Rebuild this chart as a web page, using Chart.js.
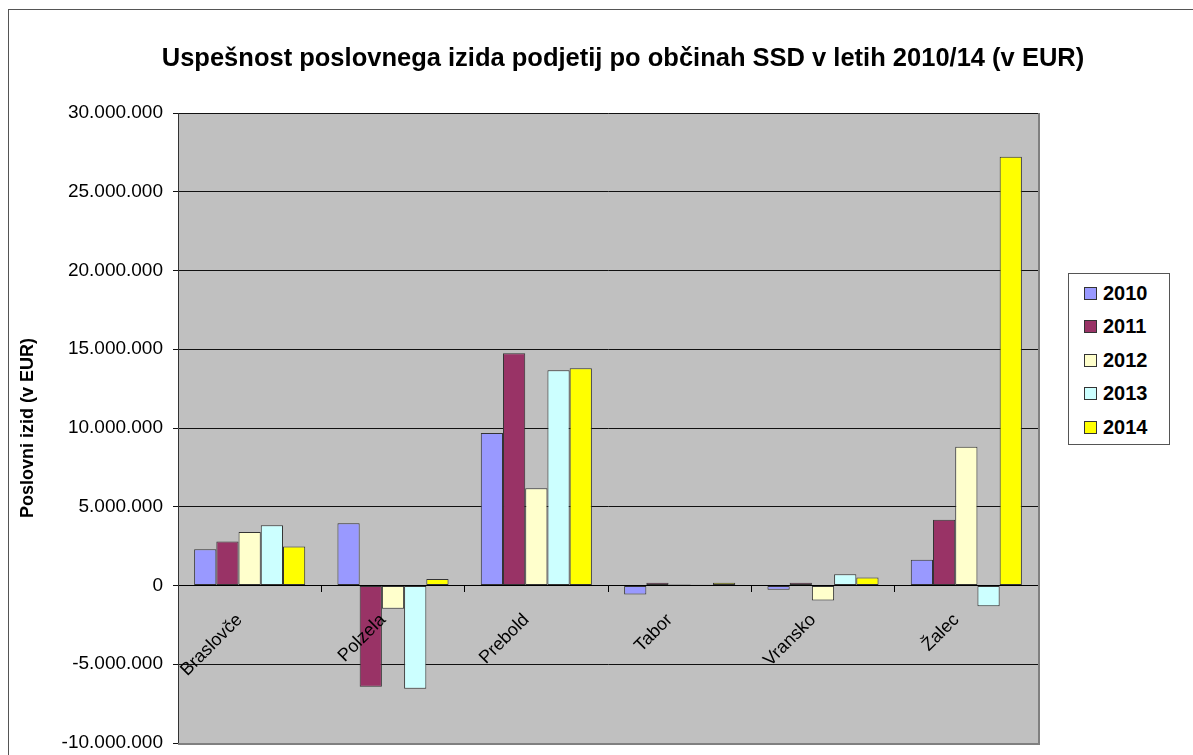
<!DOCTYPE html>
<html>
<head>
<meta charset="utf-8">
<script src="https://cdn.jsdelivr.net/npm/chart.js@4"></script>
<style>
html, body { margin: 0; padding: 0; background: #fff; }
#wrap { position: relative; width: 1193px; height: 755px; overflow: hidden; }
#frame { position: absolute; left: 8px; top: 9px; width: 1300px; height: 900px; border-left: 1px solid #555; border-top: 1px solid #555; }
#c { position: absolute; left: 0; top: 0; }
#title { position: absolute; left: 0; top: 43px; width: 1246px; text-align: center; line-height: 30px;
  font: bold 25.5px "Liberation Sans", Arial, sans-serif; color: #000; white-space: nowrap; }
#legend { position: absolute; left: 1068px; top: 273px; width: 102px; height: 172px; box-sizing: border-box;
  border: 1px solid #555; background: #fff; font: bold 20px "Liberation Sans", Arial, sans-serif; color: #000; }
#legend .row { position: absolute; left: 0; height: 33px; display: flex; align-items: center; }
#legend .sw { width: 13px; height: 13px; box-sizing: border-box; border: 1px solid #333; margin-left: 15px; margin-right: 6px; }
</style>
</head>
<body>
<div id="wrap">
  <div id="frame"></div>
  <canvas id="c" width="1193" height="755"></canvas>
  <div id="title">Uspešnost poslovnega izida podjetij po občinah SSD v letih 2010/14 (v EUR)</div>
  <div id="legend"></div>
</div>
<script>
const categories = ['Braslovče', 'Polzela', 'Prebold', 'Tabor', 'Vransko', 'Žalec'];
const years = ['2010', '2011', '2012', '2013', '2014'];
const v2010 = [2300000, 3960000, 9690000, -570000, -270000, 1640000];
const v2011 = [2800000, -6430000, 14750000, 170000, 170000, 4170000];
const v2012 = [3400000, -1480000, 6170000, 60000, -950000, 8810000];
const v2013 = [3830000, -6560000, 13660000, 50000, 720000, -1320000];
const v2014 = [2470000, 420000, 13800000, 170000, 510000, 27220000];
const yTickValues = [-10000000, -5000000, 0, 5000000, 10000000, 15000000, 20000000, 25000000, 30000000];

const colors = ['#9999FF', '#993366', '#FFFFCC', '#CCFFFF', '#FFFF00'];
const series = [v2010, v2011, v2012, v2013, v2014];
const FONT = '"Liberation Sans", Arial, sans-serif';

function fmt(v) {
  const s = String(Math.abs(v)).replace(/\B(?=(\d{3})+(?!\d))/g, '.');
  return v < 0 ? '-' + s : s;
}

// grey plot area with Excel-like border
const plotArea = {
  id: 'plotArea',
  beforeDraw(chart) {
    const { ctx, chartArea: a } = chart;
    ctx.save();
    ctx.fillStyle = '#C0C0C0';
    ctx.fillRect(a.left, a.top, a.right - a.left, a.bottom - a.top);
    ctx.restore();
  },
  afterDraw(chart) {
    const { ctx, chartArea: a } = chart;
    ctx.save();
    ctx.strokeStyle = '#808080';
    ctx.lineWidth = 2;
    ctx.beginPath();
    ctx.moveTo(a.left, a.bottom + 1);
    ctx.lineTo(a.right + 1, a.bottom + 1);
    ctx.lineTo(a.right + 1, a.top);
    ctx.stroke();
    ctx.restore();
  }
};

const chart = new Chart(document.getElementById('c'), {
  type: 'bar',
  data: {
    labels: categories,
    datasets: years.map((y, i) => ({
      label: y,
      data: series[i],
      backgroundColor: colors[i],
      borderColor: '#333',
      borderWidth: 1,
      borderSkipped: false,
      barPercentage: 1,
      categoryPercentage: 0.775
    }))
  },
  options: {
    responsive: false,
    animation: false,
    layout: { padding: { left: 0, right: 155, top: 113, bottom: 12 } },
    plugins: {
      legend: { display: false },
      tooltip: { enabled: false },
      title: { display: false }
    },
    scales: {
      x: {
        position: { y: 0 },
        afterFit: s => { s.height = 0; },
        grid: { drawOnChartArea: false, drawTicks: true, tickLength: 6, color: '#000', offset: true },
        border: { display: true, color: '#000' },
        ticks: { z: 1, minRotation: 45, maxRotation: 45, autoSkip: false, padding: 18, labelOffset: -10, color: '#000',
          font: { family: FONT, size: 18 } }
      },
      y: {
        min: -10000000,
        max: 30000000,
        afterFit: s => { s.width = 178; s.paddingTop = 0; s.paddingBottom = 0; },
        afterBuildTicks: s => { s.ticks = yTickValues.map(v => ({ value: v })); },
        grid: { color: '#111', tickLength: 5 },
        border: { color: '#333' },
        ticks: { callback: v => fmt(v), padding: 10, color: '#000', font: { family: FONT, size: 19 } },
        title: {
          display: true,
          text: 'Poslovni izid (v EUR)',
          color: '#000',
          font: { family: FONT, size: 18, weight: 'bold' },
          padding: { top: 17 }
        }
      }
    }
  },
  plugins: [plotArea]
});

// legend box
const legend = document.getElementById('legend');
chart.data.datasets.forEach((ds, i) => {
  const row = document.createElement('div');
  row.className = 'row';
  row.style.top = (3 + i * 33.4) + 'px';
  const sw = document.createElement('span');
  sw.className = 'sw';
  sw.style.background = ds.backgroundColor;
  const t = document.createElement('span');
  t.textContent = ds.label;
  row.appendChild(sw);
  row.appendChild(t);
  legend.appendChild(row);
});
</script>
</body>
</html>
